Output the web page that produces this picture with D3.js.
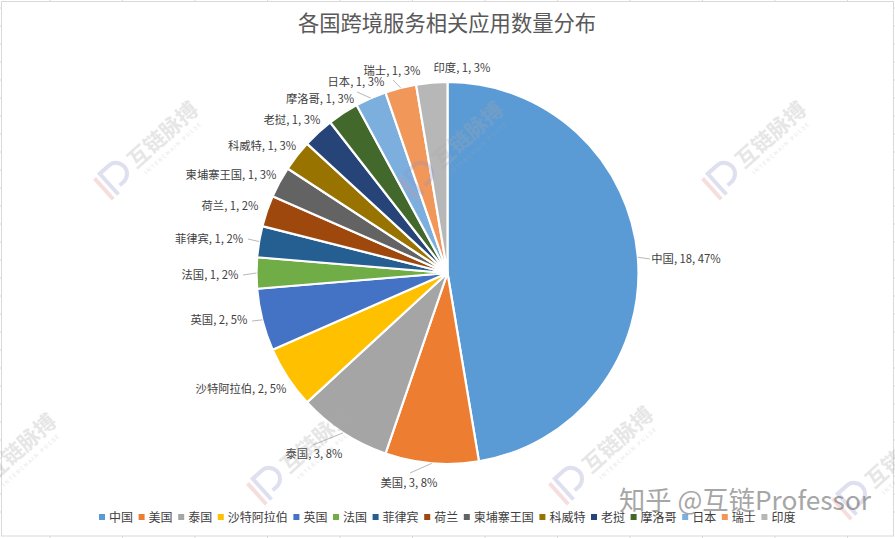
<!DOCTYPE html>
<html><head><meta charset="utf-8">
<script src="https://cdn.jsdelivr.net/npm/d3@7"></script>
<style>html,body{margin:0;padding:0;background:#fff;overflow:hidden}svg{display:block}text{font-family:"Noto Sans CJK SC","Noto Sans",sans-serif}</style>
</head><body><svg id="c" width="895" height="538"></svg>
<script>
const title = "各国跨境服务相关应用数量分布";
const categories = ["中国","美国","泰国","沙特阿拉伯","英国","法国","菲律宾","荷兰","柬埔寨王国","科威特","老挝","摩洛哥","日本","瑞士","印度"];
const counts = [18,3,3,2,2,1,1,1,1,1,1,1,1,1,1];
const percentLabels = ["47%","8%","8%","5%","5%","2%","2%","2%","3%","3%","3%","3%","3%","3%","3%"];
const colors = ["#5B9BD5","#ED7D31","#A5A5A5","#FFC000","#4472C4","#70AD47","#255E91","#9E480E","#636363","#997300","#264478","#43682B","#7CAFDD","#F1975A","#B7B7B7"];
// layout only
const labelCenters = [[686,259],[409,483],[314,454],[241,389],[219,320],[210,275],[209,239],[230,206],[231,175],[262,146],[292,120],[320,99],[356,82],[392,71],[462,68]];
const leaderEnds = {0:[650,259],1:[410,473],2:[313,445],4:[252,321],5:[243,275],6:[248,239],12:[357,92],13:[393,80]};
const watermarks = [[147,150],[755,150],[452,150],[5,462],[300,455],[602,455],[885,470]];
const cx=447.5, cy=273, R=191;

const svg=d3.select("#c");
// sheet frame and its marks
const grid=svg.append("g").attr("stroke","#d9d9d9").attr("fill","none");
grid.append("rect").attr("x",1.5).attr("y",1.5).attr("width",892).attr("height",534.5);
d3.range(50,895,72.5).forEach(x=>{
  grid.append("line").attr("x1",x).attr("x2",x).attr("y1",536).attr("y2",538);
  grid.append("line").attr("x1",x).attr("x2",x).attr("y1",0).attr("y2",2);
});
d3.range(8,530,18).forEach(y=>{
  grid.append("line").attr("x1",0).attr("x2",2).attr("y1",y).attr("y2",y);
  grid.append("line").attr("x1",893).attr("x2",895).attr("y1",y).attr("y2",y);
});

svg.append("text").attr("x",447).attr("y",31).attr("text-anchor","middle").attr("font-size",21.3).attr("fill","#595959").text(title);

const pie=d3.pie().sort(null).value(d=>d);
const arcs=pie(counts);
const arc=d3.arc().innerRadius(0).outerRadius(R);
const color=d3.scaleOrdinal(categories,colors);
const g=svg.append("g").attr("transform",`translate(${cx},${cy})`);
g.selectAll("path").data(arcs).join("path").attr("d",arc)
 .attr("fill",(d,i)=>color(categories[i])).attr("stroke","#fff").attr("stroke-width",2.2).attr("stroke-linejoin","round");

// leaders
arcs.forEach((d,i)=>{
  if(!leaderEnds[i])return;
  const a=(d.startAngle+d.endAngle)/2;
  svg.append("line").attr("x1",cx+Math.sin(a)*R).attr("y1",cy-Math.cos(a)*R)
   .attr("x2",leaderEnds[i][0]).attr("y2",leaderEnds[i][1]).attr("stroke","#a6a6a6").attr("stroke-width",.8);
});
// data labels
categories.forEach((c,i)=>{
  svg.append("text").attr("x",labelCenters[i][0]).attr("y",labelCenters[i][1]+4).attr("text-anchor","middle")
   .attr("font-size",11.3).attr("fill","#404040").text(`${c}, ${counts[i]}, ${percentLabels[i]}`);
});
// legend
let lx=99;
const leg=svg.append("g");
categories.forEach((c,i)=>{
  leg.append("rect").attr("x",lx).attr("y",514).attr("width",6).attr("height",6).attr("fill",colors[i]);
  leg.append("text").attr("x",lx+10).attr("y",522).attr("font-size",12).attr("fill","#404040").text(c);
  lx+=15.6+c.length*12;
});
// watermarks
watermarks.forEach(([x,y])=>{
  const w=svg.append("g").attr("transform",`translate(${x},${y}) rotate(-42)`).attr("opacity",.28).style("pointer-events","none");
  w.append("rect").attr("x",-60).attr("y",-14).attr("width",4).attr("height",28).attr("fill","#e58c8c");
  w.append("path").attr("d","M-51,14V-14H-39a11,11 0 0 1 0,22H-44").attr("fill","none").attr("stroke","#8f93c9").attr("stroke-width",4);
  w.append("text").attr("x",-21).attr("y",7).attr("font-size",21.5).attr("font-weight",700).attr("fill","#a9a9a9").text("互链脉搏");
  w.append("text").attr("x",-17).attr("y",18).attr("font-size",5.5).attr("letter-spacing",1.6).attr("fill","#a9a9a9").text("INTERCHAIN PULSE");
});
svg.append("text").attr("x",619).attr("y",510).attr("font-size",26.3).attr("fill","#777").attr("opacity",.65).text("知乎 @互链Professor");
</script></body></html>
